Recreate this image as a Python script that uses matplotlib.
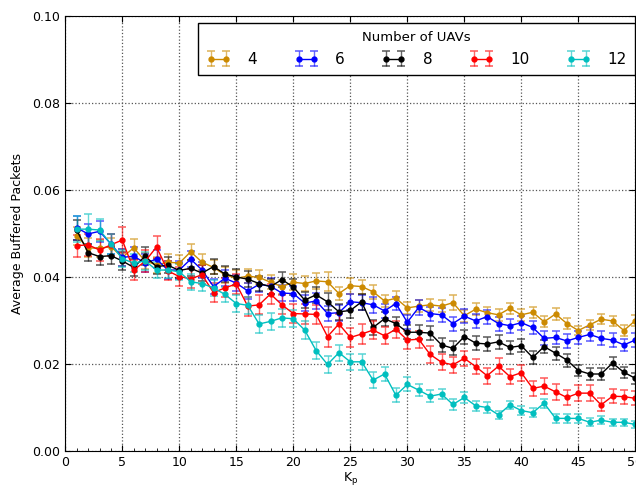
import numpy as np
import matplotlib
matplotlib.use("Agg")
import matplotlib.pyplot as plt

# Controller gain values on the x axis
k_p = list(range(1, 51))

uav_counts = ["4", "6", "8", "10", "12"]

buffered_4 = [0.0494, 0.0467, 0.0466, 0.0470, 0.0445, 0.0467, 0.0437, 0.0428, 0.0434, 0.0432,
              0.0458, 0.0434, 0.0422, 0.0405, 0.0397, 0.0402, 0.0399, 0.0388, 0.0378, 0.0388,
              0.0385, 0.0391, 0.0389, 0.0362, 0.0380, 0.0378, 0.0366, 0.0345, 0.0351, 0.0329,
              0.0333, 0.0336, 0.0333, 0.0341, 0.0311, 0.0326, 0.0318, 0.0313, 0.0328, 0.0313,
              0.0319, 0.0297, 0.0315, 0.0293, 0.0277, 0.0290, 0.0303, 0.0299, 0.0277, 0.0300]
buffered_6 = [0.0513, 0.0499, 0.0505, 0.0476, 0.0445, 0.0448, 0.0432, 0.0441, 0.0416, 0.0416,
              0.0441, 0.0416, 0.0378, 0.0397, 0.0386, 0.0368, 0.0383, 0.0379, 0.0363, 0.0362,
              0.0340, 0.0345, 0.0316, 0.0318, 0.0343, 0.0341, 0.0336, 0.0322, 0.0339, 0.0296,
              0.0330, 0.0316, 0.0313, 0.0293, 0.0310, 0.0299, 0.0309, 0.0293, 0.0288, 0.0295,
              0.0284, 0.0259, 0.0261, 0.0253, 0.0261, 0.0268, 0.0259, 0.0255, 0.0244, 0.0255]
buffered_8 = [0.0508, 0.0456, 0.0447, 0.0449, 0.0437, 0.0422, 0.0448, 0.0424, 0.0427, 0.0415,
              0.0420, 0.0409, 0.0424, 0.0407, 0.0400, 0.0395, 0.0385, 0.0378, 0.0394, 0.0377,
              0.0347, 0.0359, 0.0343, 0.0320, 0.0323, 0.0343, 0.0284, 0.0304, 0.0293, 0.0273,
              0.0273, 0.0271, 0.0244, 0.0236, 0.0263, 0.0248, 0.0246, 0.0251, 0.0238, 0.0242,
              0.0215, 0.0240, 0.0225, 0.0209, 0.0185, 0.0177, 0.0177, 0.0202, 0.0181, 0.0167]
buffered_10 = [0.0472, 0.0474, 0.0462, 0.0474, 0.0485, 0.0416, 0.0436, 0.0469, 0.0414, 0.0401,
               0.0396, 0.0405, 0.0364, 0.0375, 0.0384, 0.0333, 0.0336, 0.0361, 0.0336, 0.0316,
               0.0315, 0.0314, 0.0263, 0.0292, 0.0261, 0.0269, 0.0278, 0.0265, 0.0280, 0.0255,
               0.0257, 0.0222, 0.0204, 0.0198, 0.0213, 0.0194, 0.0173, 0.0195, 0.0171, 0.0180,
               0.0144, 0.0149, 0.0136, 0.0123, 0.0133, 0.0133, 0.0106, 0.0126, 0.0125, 0.0121]
buffered_12 = [0.0510, 0.0510, 0.0508, 0.0476, 0.0442, 0.0432, 0.0437, 0.0416, 0.0416, 0.0412,
               0.0389, 0.0385, 0.0375, 0.0360, 0.0339, 0.0335, 0.0292, 0.0298, 0.0306, 0.0304,
               0.0278, 0.0231, 0.0199, 0.0226, 0.0205, 0.0205, 0.0163, 0.0177, 0.0128, 0.0153,
               0.0140, 0.0126, 0.0131, 0.0107, 0.0123, 0.0104, 0.0100, 0.0083, 0.0106, 0.0093,
               0.0088, 0.0110, 0.0075, 0.0075, 0.0075, 0.0066, 0.0071, 0.0066, 0.0066, 0.0061]

# Half-widths of the confidence intervals
err_4 = [0.0020, 0.0022, 0.0020, 0.0020, 0.0020, 0.0020, 0.0018, 0.0018, 0.0018, 0.0018,
         0.0018, 0.0018, 0.0016, 0.0018, 0.0018, 0.0016, 0.0016, 0.0016, 0.0016, 0.0018,
         0.0018, 0.0018, 0.0022, 0.0016, 0.0018, 0.0016, 0.0016, 0.0014, 0.0016, 0.0014,
         0.0014, 0.0014, 0.0014, 0.0018, 0.0014, 0.0014, 0.0013, 0.0013, 0.0013, 0.0013,
         0.0013, 0.0013, 0.0013, 0.0012, 0.0010, 0.0012, 0.0012, 0.0012, 0.0012, 0.0012]
err_6 = [0.0028, 0.0022, 0.0024, 0.0022, 0.0020, 0.0020, 0.0020, 0.0020, 0.0020, 0.0020,
         0.0018, 0.0018, 0.0018, 0.0018, 0.0018, 0.0018, 0.0018, 0.0018, 0.0018, 0.0018,
         0.0018, 0.0018, 0.0018, 0.0018, 0.0018, 0.0018, 0.0018, 0.0016, 0.0016, 0.0016,
         0.0018, 0.0016, 0.0016, 0.0016, 0.0016, 0.0016, 0.0016, 0.0016, 0.0016, 0.0016,
         0.0016, 0.0016, 0.0016, 0.0016, 0.0016, 0.0016, 0.0016, 0.0016, 0.0014, 0.0016]
err_8 = [0.0022, 0.0020, 0.0020, 0.0020, 0.0020, 0.0020, 0.0020, 0.0018, 0.0018, 0.0018,
         0.0018, 0.0018, 0.0018, 0.0018, 0.0018, 0.0018, 0.0018, 0.0018, 0.0018, 0.0018,
         0.0018, 0.0018, 0.0020, 0.0018, 0.0018, 0.0018, 0.0018, 0.0016, 0.0016, 0.0016,
         0.0016, 0.0016, 0.0016, 0.0016, 0.0016, 0.0016, 0.0016, 0.0016, 0.0016, 0.0015,
         0.0015, 0.0015, 0.0015, 0.0015, 0.0013, 0.0013, 0.0013, 0.0013, 0.0013, 0.0013]
err_10 = [0.0025, 0.0025, 0.0025, 0.0025, 0.0030, 0.0022, 0.0025, 0.0025, 0.0022, 0.0022,
          0.0022, 0.0022, 0.0022, 0.0022, 0.0022, 0.0022, 0.0022, 0.0022, 0.0022, 0.0022,
          0.0022, 0.0022, 0.0023, 0.0022, 0.0022, 0.0022, 0.0020, 0.0020, 0.0020, 0.0020,
          0.0020, 0.0020, 0.0018, 0.0018, 0.0018, 0.0018, 0.0018, 0.0018, 0.0018, 0.0018,
          0.0018, 0.0018, 0.0018, 0.0018, 0.0019, 0.0018, 0.0015, 0.0016, 0.0016, 0.0016]
err_12 = [0.0030, 0.0035, 0.0025, 0.0022, 0.0020, 0.0020, 0.0020, 0.0018, 0.0018, 0.0018,
          0.0018, 0.0018, 0.0018, 0.0018, 0.0020, 0.0020, 0.0020, 0.0020, 0.0020, 0.0020,
          0.0020, 0.0020, 0.0019, 0.0018, 0.0018, 0.0018, 0.0018, 0.0016, 0.0016, 0.0016,
          0.0014, 0.0014, 0.0012, 0.0012, 0.0012, 0.0012, 0.0012, 0.0010, 0.0010, 0.0010,
          0.0010, 0.0010, 0.0010, 0.0010, 0.0010, 0.0009, 0.0009, 0.0008, 0.0008, 0.0008]

series = [buffered_4, buffered_6, buffered_8, buffered_10, buffered_12]
errors = [err_4, err_6, err_8, err_10, err_12]
colors = ["#cc8a00", "#0000ff", "#000000", "#ff0000", "#00bfbf"]

plt.rcParams["font.family"] = ["DejaVu Sans"]
plt.rcParams["mathtext.fontset"] = "dejavusans"

fig = plt.figure(figsize=(6.36, 4.86), dpi=100)
ax = fig.add_axes([65.3 / 636, 35 / 486, 570 / 636, 435 / 486])

for label, vals, errs, col in zip(uav_counts, series, errors, colors):
    c = ax.errorbar(k_p, vals, yerr=errs, color=col, ecolor=col,
                    marker="o", markersize=3.5, linewidth=1.0,
                    elinewidth=1.0, capsize=3, capthick=1.2, label=label)
    for bar in c[2]:
        bar.set_alpha(0.6)
    for cap in c[1]:
        cap.set_alpha(0.6)

ax.set_xlim(0, 50)
ax.set_ylim(0, 0.10)
ax.set_xticks(range(0, 51, 5))
ax.set_xticks(range(0, 51), minor=True)
ax.set_yticks(np.arange(0, 0.101, 0.02))
ax.yaxis.set_major_formatter(matplotlib.ticker.FormatStrFormatter("%.2f"))
ax.tick_params(axis="both", which="major", direction="in", length=4,
               labelsize=9, top=True, right=True)
ax.tick_params(axis="x", which="minor", direction="in", length=2, top=False)
ax.grid(True, which="major", linestyle=":", color="#555555", linewidth=0.9)

ax.set_xlabel(r"K$_\mathrm{p}$", fontsize=9, labelpad=1)
ax.set_ylabel("Average Buffered Packets", fontsize=9, labelpad=6)

leg = ax.legend(title="Number of UAVs", ncol=5, loc="upper left",
                bbox_to_anchor=(198 / 636, 1 - 23 / 486),
                bbox_transform=fig.transFigure, borderaxespad=0,
                fontsize=11, title_fontsize=9.5, numpoints=2,
                handlelength=1.6, handletextpad=1.1, columnspacing=2.4,
                fancybox=False, framealpha=1, edgecolor="black",
                borderpad=0.55)
leg.get_frame().set_linewidth(1.0)

fig.savefig("out.png", dpi=100)
